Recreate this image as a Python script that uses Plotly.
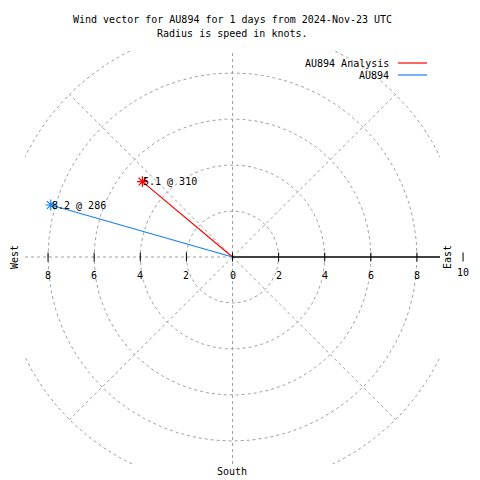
import numpy as np
import plotly.graph_objects as go

# ---- data ----
series_names = ["AU894 Analysis", "AU894"]
speeds_kt = [5.1, 8.2]
directions_deg = [310, 286]
series_colors = ["#ff0000", "#1a80f0"]

ring_radii = [2, 4, 6, 8, 10]
spoke_angles = [45, 135, 225, 315]
tick_values = [-8, -6, -4, -2, 0, 2, 4, 6, 8, 10]
tick_labels = ["8", "6", "4", "2", "0", "2", "4", "6", "8", "10"]
axis_limit = 9

title_lines = ["Wind vector for AU894 for 1 days from 2024-Nov-23 UTC",
               "Radius is speed in knots."]

FONT = "DejaVu Sans Mono"
GRID = dict(color="#a0a0a0", width=1, dash="3px,3px")

fig = go.Figure()

# grid rings
theta = np.linspace(0, 2 * np.pi, 721)
for r in ring_radii:
    fig.add_trace(go.Scatter(x=r * np.cos(theta), y=r * np.sin(theta), mode="lines",
                             line=GRID, hoverinfo="skip", showlegend=False))
# diagonal spokes
rmax = max(ring_radii)
for a in spoke_angles:
    rad = np.deg2rad(a)
    fig.add_trace(go.Scatter(x=[0, rmax * np.cos(rad)], y=[0, rmax * np.sin(rad)], mode="lines",
                             line=GRID, hoverinfo="skip", showlegend=False))
# vertical and left horizontal grid lines
fig.add_trace(go.Scatter(x=[0, 0], y=[-axis_limit, axis_limit], mode="lines", line=GRID,
                         hoverinfo="skip", showlegend=False))
fig.add_trace(go.Scatter(x=[-axis_limit, 0], y=[0, 0], mode="lines", line=GRID,
                         hoverinfo="skip", showlegend=False))
# solid right axis
fig.add_trace(go.Scatter(x=[0, axis_limit], y=[0, 0], mode="lines",
                         line=dict(color="black", width=1.5), hoverinfo="skip", showlegend=False))

# wind vectors
annotations = []
for name, s, d, c in zip(series_names, speeds_kt, directions_deg, series_colors):
    rad = np.deg2rad(d)
    px, py = s * np.sin(rad), s * np.cos(rad)
    fig.add_trace(go.Scatter(x=[0, px], y=[0, py], mode="lines", line=dict(color=c, width=1.2),
                             name=name, showlegend=False))
    fig.add_trace(go.Scatter(x=[px], y=[py], mode="markers",
                             marker=dict(symbol="asterisk-open", size=9, color=c,
                                         line=dict(color=c, width=1.2)),
                             name=name, showlegend=False))
    annotations.append(dict(x=px, y=py, xref="x", yref="y", text=f"{s} @ {d}", showarrow=False,
                            xanchor="left", yanchor="middle", xshift=-1,
                            font=dict(family=FONT, size=10, color="black")))

# plot area pixel mapping helpers (layout only)
L, R, T, B = 25, 40, 50, 16
W = H = 480
pw, ph = W - L - R, H - T - B
def xp(px):
    return (px - L) / pw
def yp(py):
    return (H - B - py) / ph
def x_data_to_paper(v):
    return (v + axis_limit) / (2 * axis_limit)

# tick marks and labels along the east-west axis
shapes = []
for v, lab in zip(tick_values, tick_labels):
    xv = x_data_to_paper(v)
    shapes.append(dict(type="line", xref="paper", yref="y", ysizemode="pixel", yanchor=0,
                       x0=xv, x1=xv, y0=-4.5, y1=4.5, line=dict(color="black", width=1)))
    annotations.append(dict(x=xv, y=0, xref="paper", yref="y", text=lab, showarrow=False,
                            xanchor="center", yanchor="middle", yshift=-18 + (3 if v > axis_limit else 0),
                            font=dict(family=FONT, size=10, color="black")))

# titles
for i, line in enumerate(title_lines):
    annotations.append(dict(x=xp(232), y=yp(20 + 13 * i), xref="paper", yref="paper", text=line,
                            showarrow=False, xanchor="center", yanchor="middle",
                            font=dict(family=FONT, size=10, color="black")))
# compass labels
annotations.append(dict(x=xp(14), y=yp(257), xref="paper", yref="paper", text="West", textangle=-90,
                        showarrow=False, xanchor="center", yanchor="middle",
                        font=dict(family=FONT, size=10, color="black")))
annotations.append(dict(x=xp(447), y=yp(257), xref="paper", yref="paper", text="East", textangle=-90,
                        showarrow=False, xanchor="center", yanchor="middle",
                        font=dict(family=FONT, size=10, color="black")))
annotations.append(dict(x=xp(232), y=yp(471), xref="paper", yref="paper", text="South",
                        showarrow=False, xanchor="center", yanchor="middle",
                        font=dict(family=FONT, size=10, color="black")))

# legend (gnuplot style: text left, line right)
for i, (name, c) in enumerate(zip(series_names, series_colors)):
    ly = 63 + 12 * i
    annotations.append(dict(x=xp(391), y=yp(ly), xref="paper", yref="paper", text=name,
                            showarrow=False, xanchor="right", yanchor="middle",
                            font=dict(family=FONT, size=10, color="black")))
    shapes.append(dict(type="line", xref="paper", yref="paper", x0=xp(398), x1=xp(427),
                       y0=yp(ly), y1=yp(ly), line=dict(color=c, width=1.2)))

fig.update_layout(
    width=W, height=H, margin=dict(l=L, r=R, t=T, b=B),
    paper_bgcolor="white", plot_bgcolor="white", showlegend=False,
    xaxis=dict(range=[-axis_limit, axis_limit], visible=False, fixedrange=True),
    yaxis=dict(range=[-axis_limit, axis_limit], visible=False, fixedrange=True),
    annotations=annotations, shapes=shapes,
    font=dict(family=FONT, size=10, color="black"),
)

fig.write_html("out.html", config={"displayModeBar": False},
               post_script="document.body.style.margin='0px';")
